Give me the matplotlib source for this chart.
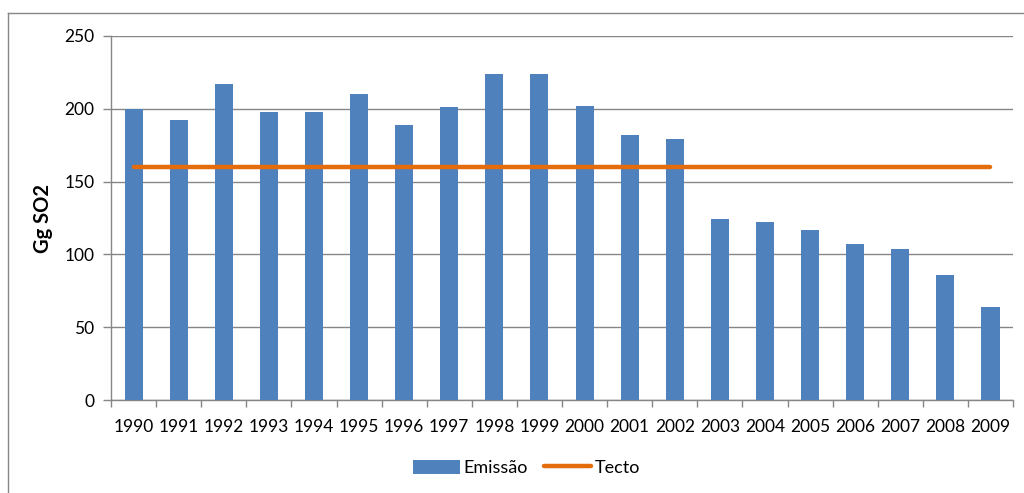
import matplotlib
matplotlib.use("Agg")
import matplotlib.pyplot as plt
from matplotlib.lines import Line2D
from matplotlib.patches import Patch
import numpy as np

plt.rcParams['font.family'] = ['Lato', 'DejaVu Sans']

years = ['1990', '1991', '1992', '1993', '1994', '1995', '1996', '1997', '1998', '1999',
         '2000', '2001', '2002', '2003', '2004', '2005', '2006', '2007', '2008', '2009']
emissao = [200, 192, 217, 198, 198, 210, 189, 201, 224, 224,
           202, 182, 179, 124, 122, 117, 107, 104, 86, 64]
tecto = [160] * len(years)

bar_color = '#4F81BD'
line_color = '#E46C0A'
grid_color = '#868686'

fig = plt.figure(figsize=(10.24, 4.93), dpi=100)
ax = fig.add_axes([0.1084, 0.1886, 0.8809, 0.7384])

x = np.arange(len(years))
ax.bar(x, emissao, width=0.4, color=bar_color, zorder=3, label='Emissão')
ax.plot(x, tecto, color=line_color, linewidth=3.2, solid_capstyle='round', zorder=4, label='Tecto')

ax.set_xlim(-0.5, len(years) - 0.5)
ax.set_ylim(0, 250)
ax.set_yticks([0, 50, 100, 150, 200, 250])
ax.set_xticks(x)
ax.set_xticklabels(years)
ax.set_xticks(np.arange(-0.5, len(years)), minor=True)

ax.yaxis.grid(True, color=grid_color, linewidth=1.0, zorder=0)
ax.set_axisbelow(True)

for side in ('top', 'right'):
    ax.spines[side].set_visible(False)
for side in ('left', 'bottom'):
    ax.spines[side].set_color(grid_color)
    ax.spines[side].set_linewidth(1.0)

ax.tick_params(axis='x', which='major', length=0, pad=14, labelsize=12.5, colors='black')
ax.tick_params(axis='x', which='minor', length=5, width=1, color=grid_color)
ax.tick_params(axis='y', which='major', length=6, width=1, color=grid_color, pad=6,
               labelsize=12.5, labelcolor='black')

ax.set_ylabel('Gg SO2', fontsize=14.5, fontweight='bold', labelpad=8)

handles = [Patch(facecolor=bar_color, edgecolor='none', label='Emissão'),
           Line2D([0], [0], color=line_color, linewidth=3.2, solid_capstyle='round', label='Tecto')]
fig.legend(handles=handles, loc='center', bbox_to_anchor=(0.514, 0.051), ncol=2,
           frameon=False, fontsize=13, handlelength=2.6, handletextpad=0.2,
           columnspacing=0.9, handleheight=0.85)

# chart area frame (left and top edges)
fig.add_artist(Line2D([8 / 1024, 8 / 1024], [0, 1 - 13 / 493], transform=fig.transFigure,
                      color=grid_color, linewidth=1.0))
fig.add_artist(Line2D([8 / 1024, 1], [1 - 13 / 493, 1 - 13 / 493], transform=fig.transFigure,
                      color=grid_color, linewidth=1.0))

fig.savefig('out.png', dpi=100)
